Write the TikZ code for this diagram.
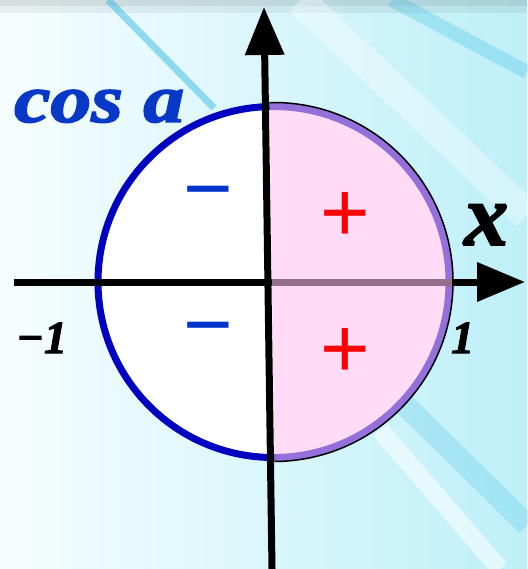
\documentclass[tikz,border=0pt]{standalone}
\usepackage{graphicx}
\usepackage{fontspec}
\setmainfont{Liberation Serif}[BoldItalicFeatures={FakeBold=2.2}]
\newfontfamily\signfont{Liberation Sans}
\usetikzlibrary{arrows.meta}

\definecolor{rimblue}{RGB}{0,0,192}
\definecolor{labblue}{RGB}{8,56,200}
\definecolor{minusblue}{RGB}{0,51,204}
\definecolor{plusred}{RGB}{255,0,0}
\definecolor{halfpink}{RGB}{255,193,238}
\definecolor{bgleft}{RGB}{246,253,254}
\definecolor{bgright}{RGB}{190,240,248}
\definecolor{streak}{RGB}{40,180,225}

\begin{document}
\begin{tikzpicture}[x=1pt,y=-1pt,
  axis/.style={line width=7pt,-{Triangle[length=48pt,width=38pt]}},
  sign/.style={inner sep=0pt,font=\signfont\fontsize{85}{85}\selectfont},
  lab/.style={inner sep=0pt,anchor=base west,font=\bfseries\itshape\fontsize{46}{46}\selectfont}]
  \useasboundingbox (0,0) rectangle (527,569);

  % background and streaks
  \shade[left color=bgleft,right color=bgright] (0,0) rectangle (527,569);
  \fill[black,opacity=.12] (0,0) rectangle (527,6);
  \fill[black,opacity=.06] (0,6) rectangle (527,13);
  \draw[streak,line width=7pt,opacity=.45] (108,0) -- (214,108);
  \draw[streak,line width=14pt,opacity=.25] (392,0) -- (527,72);
  \draw[white,line width=30pt,opacity=.35] (300,0) -- (527,215);
  \draw[streak,line width=22pt,opacity=.2] (395,395) -- (527,525);
  \draw[white,line width=18pt,opacity=.55] (380,430) -- (500,569);

  % unit circle
  \coordinate (O) at (273.5,282);
  \fill[white] (O) circle (175.5);
  \draw[rimblue,line width=7pt] (O) circle (175.5);
  \coordinate (xs) at (14,282);
  \coordinate (xe) at (525,282);
  \draw[axis] (xs) -- (xe);

  % right half, cos a > 0
  \begin{scope}
    \clip (268,0) -- (276,569) -- (527,569) -- (527,0) -- cycle;
    \fill[halfpink,opacity=.58] (O) circle (179);
    \draw[line width=1.5pt] (O) circle (179.5);
  \end{scope}
  \coordinate (ys) at (272,569);
  \coordinate (ye) at (264,7);
  \draw[axis] (ys) -- (ye);

  \node[lab,labblue,font=\bfseries\itshape\fontsize{68}{68}\selectfont] (title) at (14,122) {\scalebox{1.2}[1]{cos a}};
  \node[lab,font=\bfseries\itshape\fontsize{88}{88}\selectfont] (xlab) at (464,245) {x};
  \node[lab] (mone) at (16,353) {−1};
  \node[lab] (one) at (451,353) {1};

  \node[sign,minusblue] (mtop) at (208,202) {−};
  \node[sign,minusblue] (mbot) at (208,338) {−};
  \node[sign,plusred] (ptop) at (345,217) {+};
  \node[sign,plusred] (pbot) at (345,353) {+};
\end{tikzpicture}
\end{document}
